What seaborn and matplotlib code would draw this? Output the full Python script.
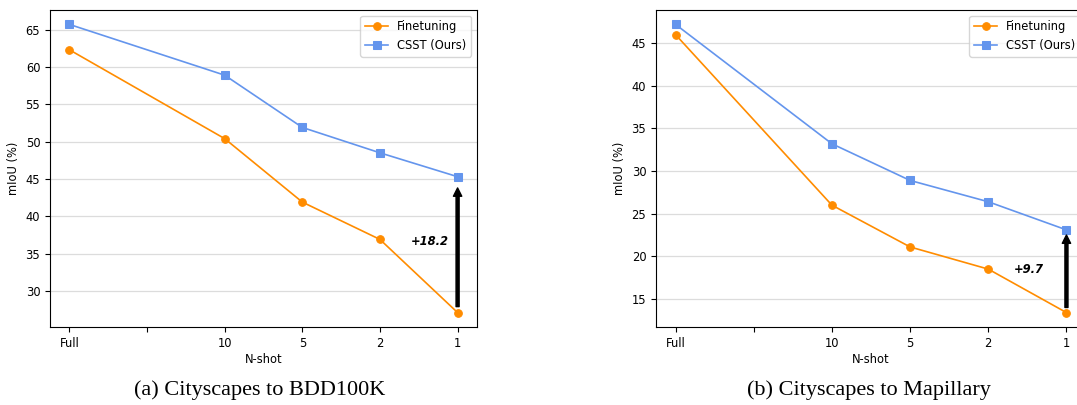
import matplotlib
matplotlib.use("Agg")
import matplotlib.pyplot as plt
import seaborn as sns
import pandas as pd

tick_labels = ["Full", "", "10", "5", "2", "1"]
shots = ["Full", "10", "5", "2", "1"]
shot_pos = [0, 2, 3, 4, 5]

bdd_finetune = [62.3, 50.4, 41.9, 36.9, 27.1]
bdd_csst = [65.7, 58.9, 51.9, 48.5, 45.3]
map_finetune = [46.0, 26.0, 21.1, 18.5, 13.4]
map_csst = [47.2, 33.2, 28.9, 26.4, 23.1]

series_names = ["Finetuning", "CSST (Ours)"]
captions = ["(a) Cityscapes to BDD100K", "(b) Cityscapes to Mapillary"]
gains = ["+18.2", "+9.7"]

FS = 8.3
plt.rcParams["font.family"] = ["DejaVu Sans"]
plt.rcParams["font.size"] = FS

fig = plt.figure(figsize=(10.77, 4.05), dpi=100)
W, H = 1077, 405
axes = [
    fig.add_axes([50 / W, 1 - 327 / H, 427 / W, 317 / H]),
    fig.add_axes([656 / W, 1 - 327 / H, 430 / W, 317 / H]),
]

datasets = [(bdd_finetune, bdd_csst), (map_finetune, map_csst)]
colors = ["darkorange", "cornflowerblue"]
markers = ["o", "s"]
text_x = [4.64, 4.52]
text_y = [36.6, 18.5]
tail_off = [0.8, 0.6]
tip_off = [1.5, 0.6]

for i, ax in enumerate(axes):
    ft, cs = datasets[i]
    df = pd.DataFrame({
        "pos": shot_pos * 2,
        "miou": ft + cs,
        "method": [series_names[0]] * 5 + [series_names[1]] * 5,
    })
    for j, name in enumerate(series_names):
        sub = df[df["method"] == name]
        sns.lineplot(data=sub, x="pos", y="miou", ax=ax, color=colors[j],
                     marker=markers[j], markersize=5.5, markeredgecolor=colors[j],
                     linewidth=1.2, label=name)
    ax.set_xticks(range(6))
    ax.set_xticklabels(tick_labels)
    ax.set_xlabel("N-shot", fontsize=FS, labelpad=2)
    ax.set_ylabel("mIoU (%)", fontsize=FS)
    ax.yaxis.grid(True, color="#dcdcdc", linewidth=0.9)
    ax.set_axisbelow(True)
    ax.tick_params(labelsize=FS)
    ax.margins(x=0.05, y=0.05)
    ax.legend(loc="upper right", fontsize=FS, framealpha=0.8)
    # improvement arrow
    ax.annotate("", xy=(5, cs[-1] - tip_off[i]), xytext=(5, ft[-1] + tail_off[i]),
                arrowprops=dict(facecolor="black", edgecolor="black", width=2.2,
                                headwidth=6, headlength=6, shrink=0))
    ax.text(text_x[i], text_y[i], gains[i], fontsize=FS, fontweight="bold",
            fontstyle="italic", ha="center", va="center")

fig.text(260 / W, 1 - 390 / H, captions[0], family="Liberation Serif",
         fontsize=16, ha="center", va="center")
fig.text(869 / W, 1 - 390 / H, captions[1], family="Liberation Serif",
         fontsize=16, ha="center", va="center")

fig.savefig("out.png", dpi=100)
